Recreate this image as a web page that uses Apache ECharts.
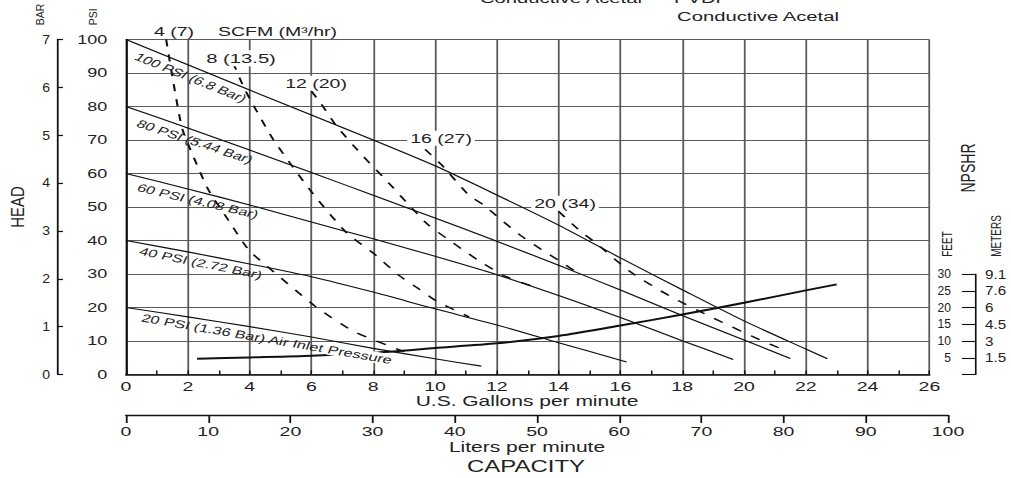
<!DOCTYPE html>
<html>
<head>
<meta charset="utf-8">
<script src="https://cdn.jsdelivr.net/npm/echarts@6/dist/echarts.min.js"></script>
<style>
html,body{margin:0;padding:0;background:#fff;overflow:hidden;}
#wrap{width:1011px;height:478px;overflow:hidden;position:relative;background:#fff;}
#c{position:absolute;left:0;top:0;width:674px;height:478px;transform:scaleX(1.5);transform-origin:0 0;}
</style>
</head>
<body>
<div id="wrap"><div id="c"></div></div>
<script>
// horizontal stretch of the original drawing
const S = 1.5;

// ---- axes / ticks ----
const gpmMin = 0, gpmMax = 26, gpmStep = 2;
const psiMin = 0, psiMax = 100, psiStep = 10;
const barTicks = [0, 1, 2, 3, 4, 5, 6, 7];
const lpmMin = 0, lpmMax = 100, lpmStep = 10;
const feetTicks = [5, 10, 15, 20, 25, 30];
const meterTicks = ['1.5', '3', '4.5', '6', '7.6', '9.1'];

// ---- air inlet pressure curves [gpm, psi] ----
const psi100 = [[0,100],[4,84.9],[8,70],[10,62.3],[12,53.6],[14,44.6],[16,34.8],[18,25.3],[20,16],[22,7.6],[22.7,4.7]];
const psi80  = [[0,80],[2,73.6],[4,67],[6,60.3],[8,53.5],[10,46.7],[12,39.8],[14,32.6],[16,25.2],[18,17.6],[20,10.3],[21.5,4.8]];
const psi60  = [[0,60],[2,55.4],[4,50.6],[6,45.5],[8,40.5],[10,35.3],[12,29.8],[14,23.6],[16,17],[18,10.1],[19.65,4.5]];
const psi40  = [[0,40],[2,36.6],[4,33],[6,29.2],[8,24.6],[10,19.6],[12,14.8],[14,9.5],[16.2,3.7]];
const psi20  = [[0,20],[2,17.2],[4,14.3],[6,11.2],[8,7.8],[10,4.7],[11.5,2.5]];

// ---- air consumption (SCFM) curves [gpm, psi] ----
const scfm4  = [[1.3,100],[1.48,90],[1.8,74],[2.0,69],[2.66,55.2],[3.26,46.8],[3.96,37.3],[4.44,33.3],[6.12,20.4],[7.36,12.9],[9.0,6.8]];
const scfm8  = [[3.47,93],[3.85,85],[4.77,70.1],[6.03,54.2],[7.14,42.3],[8.06,35.8],[8.8,29.8],[9.5,25.4],[10.05,21.9],[11.1,17.2]];
const scfm12 = [[6.0,84.6],[6.3,81],[6.82,74.1],[7.57,66.2],[8.6,56.2],[9.2,50.2],[9.8,44.5],[10.4,40.5],[11.0,36.6],[11.6,32.9],[12.3,29.2],[13.2,26.2]];
const scfm16 = [[9.68,67.2],[10.2,62.7],[11.1,53.5],[11.56,50.7],[12.1,46.5],[12.8,41.3],[13.45,37.3],[14.05,33.8],[14.7,29.8]];
const scfm20 = [[14.0,48.7],[14.7,42.8],[15.2,39.3],[16.3,30.8],[17.6,23.4],[19.0,16.9],[20.5,10.4],[21.3,7.3]];

// ---- NPSHR curve [gpm, feet] (feet scale coincides with the psi scale) ----
const npshr = [[2.3,4.7],[4,5.1],[6,5.6],[8,6.5],[10,7.9],[12,9.3],[14,11.5],[16,14.6],[18,17.9],[20,21.4],[22,25.1],[23,26.9]];

// ---- texts ----
const pressureNames = ['100 PSI (6.8 Bar)', '80 PSI (5.44 Bar)', '60 PSI (4.08 Bar)', '40 PSI (2.72 Bar)', '20 PSI (1.36 Bar) Air Inlet '];
const scfmNames = ['4 (7)', '8 (13.5)', '12 (20)', '16 (27)', '20 (34)'];

const FONT = '"Liberation Sans", Arial, sans-serif';
const chart = echarts.init(document.getElementById('c'), null, {renderer: 'svg', width: 674, height: 478});

function solid(name, data, w, z) {
  return {name, type: 'line', data, xAxisIndex: 0, yAxisIndex: 0, symbol: 'none', smooth: 0.25,
    silent: true, z: z || 2, lineStyle: {color: '#111', width: w || 1.1}};
}
function dashed(name, data) {
  return {name, type: 'line', data, xAxisIndex: 0, yAxisIndex: 0, symbol: 'none', smooth: 0.2,
    silent: true, z: 3, lineStyle: {color: '#111', width: 1.4, type: [7, 8]}};
}

const gridLine = {show: true, lineStyle: {color: '#5a5a5a', width: 1.2}};

chart.setOption({
  animation: false,
  backgroundColor: '#fff',
  grid: [
    {left: 84, top: 39.5, width: 535.6, height: 335, outerBoundsMode: 'none', containLabel: false},
    {left: 84, top: 300, width: 548, bottom: 63, outerBoundsMode: 'none', containLabel: false},
    {left: 650, top: 274, width: 0.5, height: 100.5, outerBoundsMode: 'none', containLabel: false}
  ],
  xAxis: [
    {gridIndex: 0, type: 'value', min: gpmMin, max: gpmMax, interval: gpmStep,
      axisLine: {show: true, onZero: false, lineStyle: {color: '#111', width: 1.6}},
      axisTick: {show: true, inside: true, length: 4, lineStyle: {color: '#111', width: 1}},
      minorTick: {show: true, splitNumber: 2, length: 4, lineStyle: {color: '#111', width: 1}},
      minorSplitLine: {show: false},
      splitLine: gridLine,
      axisLabel: {fontSize: 13, fontFamily: FONT, color: '#222', margin: 6}},
    {gridIndex: 1, type: 'value', min: lpmMin, max: lpmMax, interval: lpmStep,
      axisLine: {show: true, onZero: false, lineStyle: {color: '#111', width: 1.3}},
      axisTick: {show: true, inside: false, length: 8, lineStyle: {color: '#111', width: 1.2}},
      splitLine: {show: false},
      axisLabel: {fontSize: 13, fontFamily: FONT, color: '#222', margin: 10}},
    {gridIndex: 2, type: 'value', show: false, min: 0, max: 1}
  ],
  yAxis: [
    {gridIndex: 0, type: 'value', min: psiMin, max: psiMax, interval: psiStep,
      axisLine: {show: true, onZero: false, lineStyle: {color: '#111', width: 1.4}},
      axisTick: {show: false},
      splitLine: gridLine,
      axisLabel: {fontSize: 12, fontFamily: FONT, color: '#222', margin: 12.5}},
    {gridIndex: 0, type: 'value', position: 'left', offset: 46, min: 0, max: 7, interval: 1,
      axisLine: {show: true, onZero: false, lineStyle: {color: '#111', width: 1.2}},
      axisTick: {show: true, inside: true, length: 4, lineStyle: {color: '#111', width: 1.2}},
      splitLine: {show: false},
      axisLabel: {show: false}},
    {gridIndex: 2, type: 'value', position: 'left', min: 0, max: 30, interval: 5,
      axisLine: {show: true, onZero: false, lineStyle: {color: '#111', width: 1.1}},
      axisTick: {show: true, inside: false, length: 8.7, lineStyle: {color: '#111', width: 1.1}},
      splitLine: {show: false},
      axisLabel: {show: false}},
    {gridIndex: 1, type: 'value', show: false, min: 0, max: 1}
  ],
  series: [
    solid('100 psi', psi100),
    solid('80 psi', psi80),
    solid('60 psi', psi60),
    solid('40 psi', psi40),
    solid('20 psi', psi20),
    solid('NPSHR', npshr, 2, 1),
    dashed('4 scfm', scfm4),
    dashed('8 scfm', scfm8),
    dashed('12 scfm', scfm12),
    dashed('16 scfm', scfm16),
    dashed('20 scfm', scfm20)
  ]
});

// text helper: xf / yf are positions in the final (stretched) picture
function txt(xf, yf, text, o) {
  o = o || {};
  const style = {
    text: text,
    font: (o.size || 13) + 'px ' + FONT,
    fill: '#222',
    align: o.align || 'center', textAlign: o.align || 'center',
    verticalAlign: 'middle', textVerticalAlign: 'middle'
  };
  if (o.bg) { style.backgroundColor = '#fff'; style.padding = [1, 2]; }
  if (o.rich) style.rich = o.rich;
  return {type: 'text', x: xf / S, y: yf, rotation: o.rot || 0,
    scaleX: o.sx || 1, scaleY: o.sy || 1, z: o.z == null ? 5 : o.z, silent: true, style: style};
}
function slopeRot(finalSlope) { return -Math.atan(finalSlope * S); }

const g = [];
// header
g.push(txt(480, -2, 'Conductive Acetal', {align: 'left', size: 13.5}));
g.push(txt(674, -2, 'PVDF', {align: 'left', size: 13.5}));
g.push(txt(758, 16, 'Conductive Acetal', {size: 13.5}));
// axis titles
g.push(txt(18.3, 207, 'HEAD', {rot: Math.PI / 2, size: 15, sy: 0.83}));
g.push(txt(40.3, 14.5, 'BAR', {rot: Math.PI / 2, size: 10.5, sy: 0.72}));
g.push(txt(93.3, 16.7, 'PSI', {rot: Math.PI / 2, size: 10.5, sy: 0.72}));
g.push(txt(968, 168, 'NPSHR', {rot: Math.PI / 2, size: 14}));
g.push(txt(947, 244, 'FEET', {rot: Math.PI / 2, size: 10}));
g.push(txt(996, 236, 'METERS', {rot: Math.PI / 2, size: 10}));
g.push(txt(527, 401.7, 'U.S. Gallons per minute', {size: 14}));
g.push(txt(527, 447.5, 'Liters per minute', {size: 14}));
g.push(txt(526, 466.7, 'CAPACITY', {size: 16}));
// SCFM labels
g.push(txt(174, 31.7, scfmNames[0], {size: 13}));
g.push(txt(277.5, 31.7, 'SCFM (M³/hr)', {size: 13}));
g.push(txt(241, 58.3, scfmNames[1], {size: 13.5, bg: true, z: 4}));
g.push(txt(316, 83.3, scfmNames[2], {size: 13, bg: true, z: 4}));
g.push(txt(441, 138.3, scfmNames[3], {size: 13, bg: true, z: 4}));
g.push(txt(565, 203.3, scfmNames[4], {size: 13, bg: true, z: 4}));
// pressure labels along the lines
g.push(txt(190.8, 77.5, pressureNames[0], {size: 11, rot: slopeRot(0.40)}));
g.push(txt(195, 141.5, pressureNames[1], {size: 11, rot: slopeRot(0.33)}));
g.push(txt(198, 201, pressureNames[2], {size: 11, rot: slopeRot(0.23)}));
g.push(txt(201, 263, pressureNames[3], {size: 11, rot: slopeRot(0.20)}));
g.push(txt(266.7, 338.8, pressureNames[4] + '{p|Pressure}', {size: 11, rot: slopeRot(0.171), z: 1.5,
  rich: {p: {backgroundColor: '#fff', font: '11px ' + FONT, fill: '#222'}}}));

// BAR tick labels (narrow), placed by the bar axis scale
barTicks.forEach(function (v) {
  const y = chart.convertToPixel({yAxisIndex: 1}, v);
  g.push(txt(50, y, String(v), {align: 'right', size: 13, sx: 0.72}));
});
// NPSHR feet / meters labels, placed by the feet axis scale
feetTicks.forEach(function (v, i) {
  const y = chart.convertToPixel({yAxisIndex: 2}, v);
  g.push(txt(951, y, String(v), {align: 'right', size: 13, sx: 0.62}));
  g.push(txt(985, y, meterTicks[i], {align: 'left', size: 13, sx: 0.78}));
});

chart.setOption({graphic: {elements: g}});
</script>
</body>
</html>
